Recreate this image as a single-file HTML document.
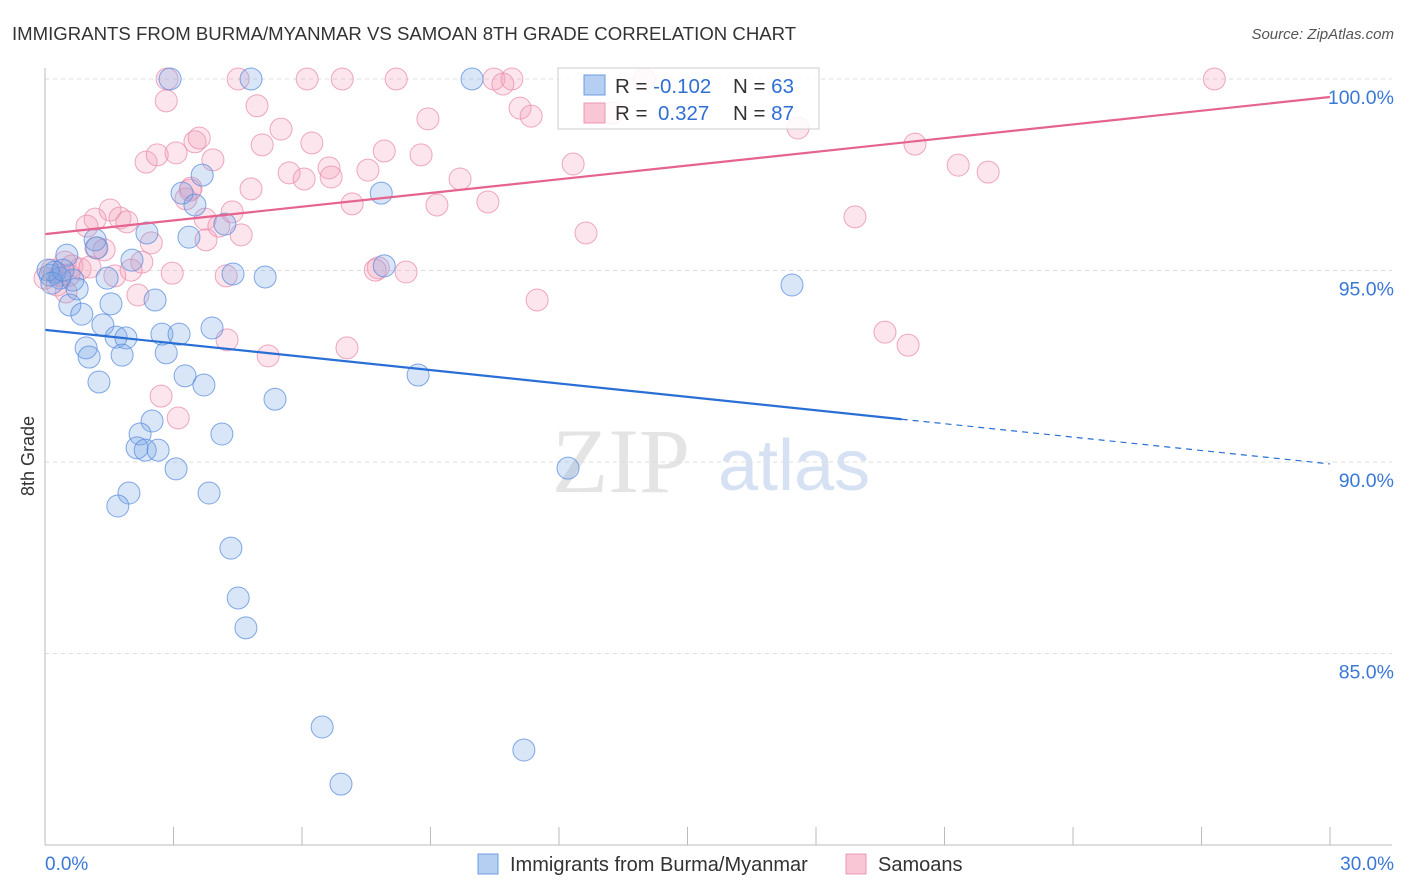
<!DOCTYPE html>
<html><head><meta charset="utf-8"><style>
body{margin:0;background:#fff;width:1406px;height:892px;overflow:hidden;font-family:"Liberation Sans",sans-serif}
svg{position:absolute;left:0;top:0}
</style></head><body>
<svg id="chart" width="1406" height="892">
<text x="12" y="40" font-size="18.6" fill="#333">IMMIGRANTS FROM BURMA/MYANMAR VS SAMOAN 8TH GRADE CORRELATION CHART</text>
<text x="1394" y="39" font-size="15" fill="#555" font-style="italic" text-anchor="end">Source: ZipAtlas.com</text>
<text x="34" y="456" font-size="18" fill="#333" text-anchor="middle" transform="rotate(-90 34 456)">8th Grade</text>
<text x="552" y="492" font-size="92" fill="#e4e4e4" font-family="Liberation Serif,serif">ZIP</text>
<text x="718" y="490" font-size="72" fill="#d6e2f3">atlas</text>
<g id="grid"></g><g id="pts"></g><g id="lines"></g>
<line x1="45" y1="68" x2="45" y2="845" stroke="#bbb"/>
<line x1="45" y1="845" x2="1392" y2="845" stroke="#bbb"/>
<g id="xt"></g>
<text x="45" y="870" font-size="19" fill="#3a78d6">0.0%</text>
<text x="1394" y="870" font-size="19" fill="#3a78d6" text-anchor="end">30.0%</text>
<g>
<rect x="558" y="68" width="261" height="61" fill="rgba(255,255,255,0.85)" stroke="#ccc"/>
<rect x="584" y="75" width="21" height="20" fill="#b5cff2" stroke="#6c9ce0"/>
<rect x="584" y="103" width="21" height="20" fill="#f9c6d6" stroke="#eb98b3"/>
<text x="615" y="93" font-size="20.5" fill="#333">R = <tspan fill="#2f6fd4">-0.102</tspan><tspan x="733">N = </tspan><tspan fill="#2f6fd4">63</tspan></text>
<text x="615" y="120" font-size="20.5" fill="#333">R = <tspan x="658" fill="#2f6fd4">0.327</tspan><tspan x="733">N = </tspan><tspan fill="#2f6fd4">87</tspan></text>
</g>
<g>
<rect x="478" y="854" width="20" height="20" fill="#b5cff2" stroke="#6c9ce0"/>
<text x="510" y="871" font-size="20" fill="#333">Immigrants from Burma/Myanmar</text>
<rect x="846" y="854" width="20" height="20" fill="#f9c6d6" stroke="#eb98b3"/>
<text x="878" y="871" font-size="20" fill="#333">Samoans</text>
</g>
</svg>
<script>
const yTicks=[100,95,90,85];
const yTickLabels=["100.0%","95.0%","90.0%","85.0%"];
const xTicks=[0,3,6,9,12,15,18,21,24,27,30];
const blueX=[2.92,4.81,9.97,3.20,3.67,3.50,7.85,2.38,3.36,4.20,0.51,1.17,1.21,2.03,4.39,5.14,7.92,1.45,0.65,0.75,2.57,1.54,0.58,0.86,1.35,1.66,1.89,2.73,3.13,3.90,0.96,1.03,1.80,2.83,3.27,1.26,3.71,5.37,8.71,2.50,2.22,4.13,2.15,2.34,2.64,3.06,12.21,1.96,3.83,1.70,4.34,4.51,4.69,6.47,11.18,6.91,17.44,0.12,0.23,0.35,0.07,0.16,0.42];
const blueY=[100,100,100,97.02,97.49,96.71,97.02,95.98,95.87,96.21,95.40,95.80,95.59,95.27,94.91,94.83,95.12,94.80,94.75,94.52,94.23,94.13,94.10,93.86,93.58,93.26,93.24,93.34,93.34,93.50,92.98,92.74,92.79,92.85,92.25,92.09,92.01,91.64,92.27,91.07,90.73,90.73,90.37,90.31,90.31,89.82,89.84,89.19,89.19,88.85,87.75,86.45,85.67,83.08,82.48,81.59,94.62,94.88,94.96,94.80,95.01,94.67,95.01];
const pinkX=[2.85,4.51,6.12,6.94,8.20,10.48,10.90,10.69,13.99,27.30,2.83,4.95,11.09,11.35,8.94,5.51,3.50,3.60,5.07,6.23,2.36,2.62,3.06,3.92,7.92,8.78,12.33,17.58,20.31,21.32,22.02,5.70,6.05,6.63,6.68,7.54,9.69,4.81,3.41,3.29,7.17,9.15,10.34,18.91,1.52,1.17,0.98,1.75,1.91,3.74,4.37,4.06,4.58,12.63,2.48,1.38,1.19,0.47,0.63,0.82,1.05,2.26,2.01,1.63,2.97,4.23,7.78,7.71,8.43,2.17,0.49,11.49,4.25,5.21,7.05,2.71,3.11,19.61,20.15,0.35,0.00,0.16,0.28,0.56,3.76,3.39,13.24];
const pinkY=[100,100,100,100,100,100,100,99.87,100,100,99.43,99.30,99.24,99.03,98.96,98.69,98.36,98.46,98.28,98.33,97.83,98.02,98.07,97.89,98.12,98.02,97.78,98.72,98.30,97.75,97.57,97.55,97.39,97.68,97.44,97.62,97.39,97.13,97.15,96.87,96.74,96.71,96.79,96.40,96.58,96.34,96.16,96.37,96.27,96.34,96.53,96.16,95.93,95.98,95.72,95.54,95.59,95.22,95.12,95.04,95.09,95.22,95.01,94.86,94.93,94.86,95.07,95.01,94.96,94.36,94.44,94.23,93.19,92.77,92.98,91.72,91.15,93.39,93.05,94.88,94.80,95.01,94.62,94.88,95.80,97.10,99.11];
const blueTrend=[93.45,89.95];
const pinkTrend=[95.95,99.53];
const NS="http://www.w3.org/2000/svg";
function sx(v){return 45+v*1285/30;}
function sy(v){return 79+(100-v)*191.5/5;}
function mk(tag,attrs,parent){const e=document.createElementNS(NS,tag);for(const k in attrs)e.setAttribute(k,attrs[k]);parent.appendChild(e);return e;}
const grid=document.getElementById('grid');
yTicks.forEach((t,i)=>{
  const l=mk('line',{x1:45,x2:1392,y1:sy(t),y2:sy(t),stroke:'#ddd','stroke-dasharray':'4,4'},grid);
  
  
  const tx=mk('text',{x:1394,y:sy(t)+25,'font-size':19.5,fill:'#3a78d6','text-anchor':'end'},grid);
  tx.textContent=yTickLabels[i];
  
  
});
const xt=document.getElementById('xt');
xTicks.forEach(t=>{
  const l=mk('line',{x1:sx(t),x2:sx(t),y1:827,y2:845,stroke:'#bbb'},xt);
  
  
});
const pts=document.getElementById('pts');
pinkX.forEach((x,i)=>{
  const c=mk('circle',{cx:sx(x),cy:sy(pinkY[i]),r:11,fill:'rgba(243,160,188,0.28)',stroke:'rgba(232,140,172,0.75)','stroke-width':1},pts);
  
  
});
blueX.forEach((x,i)=>{
  const c=mk('circle',{cx:sx(x),cy:sy(blueY[i]),r:11,fill:'rgba(120,165,230,0.28)',stroke:'rgba(90,140,220,0.75)','stroke-width':1},pts);
  
  
});
const lines=document.getElementById('lines');
const bMid=blueTrend[0]+(blueTrend[1]-blueTrend[0])*20/30;
let l1=mk('line',{x1:sx(0),y1:sy(blueTrend[0]),x2:sx(20),y2:sy(bMid),stroke:'#2a6fd6','stroke-width':2.2},lines);


let l2=mk('line',{x1:sx(20),y1:sy(bMid),x2:sx(30),y2:sy(blueTrend[1]),stroke:'#2a6fd6','stroke-width':1.2,'stroke-dasharray':'6,5'},lines);


let l3=mk('line',{x1:sx(0),y1:sy(pinkTrend[0]),x2:sx(30),y2:sy(pinkTrend[1]),stroke:'#e5638f','stroke-width':2.2},lines);


</script>
</body></html>
